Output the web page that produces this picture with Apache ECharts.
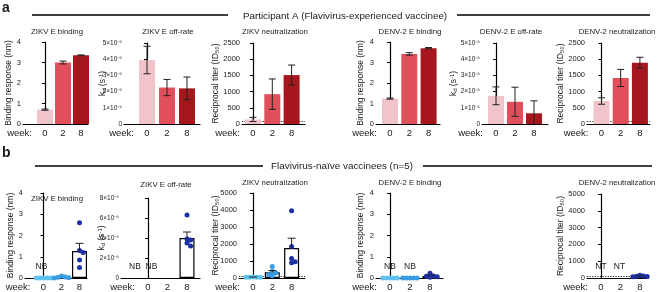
<!DOCTYPE html>
<html><head><meta charset="utf-8">
<script src="https://cdn.jsdelivr.net/npm/echarts@6/dist/echarts.min.js"></script>
<style>html,body{margin:0;padding:0;background:#fff}#c{width:658px;height:292px}</style>
</head><body><div id="c"></div><script>
// ---------- data ----------
const weeks = ['0', '2', '8'];
const headerA = 'Participant A (Flavivirus-experienced vaccinee)';
const headerB = 'Flavivirus-naïve vaccinees (n=5)';

// Panel a : Participant A (bar = mean, err = error)
const aZikvBinding = [0.70, 3.00, 3.35];
const aZikvBindingErr = [0.03, 0.07, 0.02];
const aZikvKd = [3.95e-5, 2.25e-5, 2.20e-5];
const aZikvKdErr = [0.85e-5, 0.50e-5, 0.70e-5];
const aZikvNeut = [140, 920, 1510];
const aZikvNeutErr = [65, 470, 310];
const aDenvBinding = [1.24, 3.42, 3.70];
const aDenvBindingErr = [0.03, 0.06, 0.03];
const aDenvKd = [1.74e-5, 1.37e-5, 0.66e-5];
const aDenvKdErr = [0.55e-5, 0.90e-5, 0.77e-5];
const aDenvNeut = [710, 1420, 1890];
const aDenvNeutErr = [100, 265, 170];

// Panel b : Flavivirus-naive vaccinees, individual values per week
const bZikvBindingPts = [[0, 0, 0, 0, 0], [0.09, 0.05, 0.03, 0.01, 0], [2.6, 1.3, 1.2, 0.85, 0.5]];
const bZikvBindingMean = [null, null, 1.27];
const bZikvBindingErr = [null, null, 0.36];
const bZikvKdPts = [[], [], [6.3e-6, 3.9e-6, 3.8e-6, 3.5e-6, 3.2e-6]];
const bZikvKdMean = [null, null, 4.0e-6];
const bZikvKdErr = [null, null, 0.6e-6];
const bZikvNeutPts = [[60, 50, 50, 50, 50], [680, 390, 290, 190, 130], [3950, 1850, 1150, 950, 900]];
const bZikvNeutMean = [52, 336, 1760];
const bZikvNeutErr = [2, 100, 580];
const bDenvBindingPts = [[0, 0, 0, 0, 0], [0, 0, 0, 0, 0], [0.22, 0.10, 0.08, 0.06, 0.04]];
const bDenvBindingMean = [null, null, 0.10];
const bDenvBindingErr = [null, null, 0.03];
const bDenvNeutPts = [[], [], [160, 120, 100, 90, 80]];
const bDenvNeutMean = [null, null, 110];
const bDenvNeutErr = [null, null, 15];
const neutLimit = 100;

// ---------- style ----------
const FONT = '"Liberation Sans", Arial, Helvetica, sans-serif';
const TXT = '#1a1a1a';
const redColors = ['#f1c3cb', '#e0505a', '#a5161d'];
const blueColors = ['#5fc2ef', '#3a9be0', '#1e2fa6'];

const sup = {'-': '⁻', '0': '⁰', '1': '¹', '2': '²', '3': '³', '4': '⁴', '5': '⁵', '6': '⁶', '7': '⁷', '8': '⁸', '9': '⁹'};
const supStr = s => String(s).split('').map(c => sup[c] || c).join('');
const sciFmt = exp => v => { const n = Math.round(v / Math.pow(10, exp)); return n === 0 ? '0' : n + '×10' + supStr(exp); };
const kdName = '{k|k}{d|d}{k| (s}{e|-1}{k|)}';
const kdRich = {k: {fontSize: 8.5, fontFamily: FONT, color: TXT}, d: {fontSize: 6, fontFamily: FONT, color: TXT, padding: [3, 0, 0, 0]}, e: {fontSize: 6, fontFamily: FONT, color: TXT, padding: [0, 0, 4, 0]}};

const TOP_A = 42, BOT_A = 124, BOT_B = 278;
const panels = [
  // row a
  {x0: 23, xend: 88, c0: 45, s: 18, top: TOP_A, bottom: BOT_A, yMax: 4, yInt: 1, yName: 'Binding response (nm)', nameGap: 10,
   title: 'ZIKV E binding', titleX: 57, titleY: 32, mean: aZikvBinding, err: aZikvBindingErr, both: true, fill: redColors, lblY: 133},
  {x0: 124, xend: 200, c0: 147, s: 20, top: TOP_A + 1, bottom: BOT_A, yMax: 5e-5, yInt: 1e-5, fmt: sciFmt(-5), kd: true, nameGap: 16,
   title: 'ZIKV E off-rate', titleX: 168, titleY: 32, mean: aZikvKd, err: aZikvKdErr, both: true, fill: redColors, lblY: 133},
  {x0: 242, xend: 305, c0: 253, s: 19.3, top: TOP_A + 1, bottom: BOT_A, yMax: 2500, yInt: 500, yName: 'Reciprocal titer (ID₅₀)', nameGap: 22, lod: true,
   title: 'ZIKV neutralization', titleX: 275, titleY: 32, mean: aZikvNeut, err: aZikvNeutErr, both: true, fill: redColors, lblY: 133},
  {x0: 376, xend: 440, c0: 390, s: 19.3, top: TOP_A, bottom: BOT_A, yMax: 4, yInt: 1, yName: 'Binding response (nm)', nameGap: 11,
   title: 'DENV-2 E binding', titleX: 410, titleY: 32, mean: aDenvBinding, err: aDenvBindingErr, both: true, fill: redColors, lblY: 133},
  {x0: 482, xend: 548, c0: 496, s: 19, top: TOP_A + 1, bottom: BOT_A, yMax: 5e-5, yInt: 1e-5, fmt: sciFmt(-5), kd: true, nameGap: 23,
   title: 'DENV-2 E off-rate', titleX: 511, titleY: 32, mean: aDenvKd, err: aDenvKdErr, both: true, fill: redColors, lblY: 133},
  {x0: 587, xend: 650, c0: 601.5, s: 19.2, top: TOP_A + 1, bottom: BOT_A, yMax: 2500, yInt: 500, yName: 'Reciprocal titer (ID₅₀)', nameGap: 22, lod: true,
   title: 'DENV-2 neutralization', titleX: 617, titleY: 32, mean: aDenvNeut, err: aDenvNeutErr, both: true, fill: redColors, lblY: 133},
  // row b
  {x0: 25, xend: 87, c0: 43.5, s: 18, top: 193, bottom: BOT_B, yMax: 4, yInt: 1, yName: 'Binding response (nm)', nameGap: 10,
   title: 'ZIKV E binding', titleX: 57, titleY: 199, mean: bZikvBindingMean, err: bZikvBindingErr, pts: bZikvBindingPts, lblY: 287,
   notes: [{t: 'NB', i: 0, dx: -2}]},
  {x0: 121, xend: 200, c0: 148, s: 19.5, top: 198, bottom: BOT_B, yMax: 8e-6, yInt: 2e-6, fmt: sciFmt(-6), kd: true, nameGap: 14,
   title: 'ZIKV E off-rate', titleX: 166, titleY: 185, mean: bZikvKdMean, err: bZikvKdErr, pts: bZikvKdPts, lblY: 287,
   notes: [{t: 'NB', i: 0, dx: -13}, {t: 'NB', i: 1, dx: -16}]},
  {x0: 239, xend: 305, c0: 253, s: 19.3, top: 193, bottom: BOT_B, yMax: 5000, yInt: 1000, yName: 'Reciprocal titer (ID₅₀)', nameGap: 19, lod: true,
   title: 'ZIKV neutralization', titleX: 275, titleY: 183, mean: bZikvNeutMean, err: bZikvNeutErr, pts: bZikvNeutPts, lblY: 287},
  {x0: 376, xend: 443, c0: 390, s: 20, top: 193, bottom: BOT_B, yMax: 4, yInt: 1, yName: 'Binding response (nm)', nameGap: 11,
   title: 'DENV-2 E binding', titleX: 410, titleY: 183, mean: bDenvBindingMean, err: bDenvBindingErr, pts: bDenvBindingPts, lblY: 287,
   notes: [{t: 'NB', i: 0, dx: 0}, {t: 'NB', i: 1, dx: 0}]},
  {x0: 587, xend: 648, c0: 601, s: 19.5, top: 194, bottom: BOT_B, yMax: 5000, yInt: 1000, yName: 'Reciprocal titer (ID₅₀)', nameGap: 22, lod: true,
   title: 'DENV-2 neutralization', titleX: 617, titleY: 183, mean: bDenvNeutMean, err: bDenvNeutErr, pts: bDenvNeutPts, lblY: 287,
   notes: [{t: 'NT', i: 0, dx: 0}, {t: 'NT', i: 1, dx: -1}]}
];

// ---------- build ----------
const grids = [], xAxes = [], yAxes = [], series = [], graphics = [];
const txt = (text, x, y, size, align, extra) => graphics.push({type: 'text', x, y, silent: true,
  style: Object.assign({text, fontSize: size, fontFamily: FONT, fill: TXT, textAlign: align || 'center', textVerticalAlign: 'middle'}, extra || {})});

function beeswarm(vals, kx, ky, d) {
  // x offsets (data units) so that symbols of diameter d do not overlap
  const placed = [], out = [];
  vals.forEach(v => {
    const py = v * ky;
    const cands = [0, 1, -1, 2, -2, 3, -3];
    let off = 0;
    for (const c of cands) {
      const px = c * d;
      if (placed.every(q => Math.hypot(q[0] - px, q[1] - py) >= d)) { off = px; break; }
    }
    placed.push([off, py]);
    out.push(off / kx);
  });
  return out;
}

panels.forEach((p, k) => {
  const W = p.xend - p.x0, H = p.bottom - p.top;
  grids.push({left: p.x0, top: p.top, width: W, height: H, containLabel: false, outerBoundsMode: 'none'});
  xAxes.push({gridIndex: k, type: 'value', min: (p.x0 - p.c0) / p.s, max: (p.xend - p.c0) / p.s,
    axisLine: {show: true, onZero: false, lineStyle: {color: '#000', width: 1.2}},
    axisTick: {show: false}, splitLine: {show: false},
    axisLabel: {customValues: [0, 1, 2], formatter: v => weeks[Math.round(v)] || '', fontSize: 9.5, color: TXT, fontFamily: FONT,
      margin: p.lblY - p.bottom - 5}});
  yAxes.push({gridIndex: k, type: 'value', min: 0, max: p.yMax, interval: p.yInt,
    axisLine: {show: true, lineStyle: {color: '#000', width: 1.2}},
    axisTick: {show: true, length: 3, lineStyle: {color: '#000', width: 1}},
    splitLine: {show: false},
    axisLabel: {fontSize: p.fmt ? 6.5 : 7.5, color: TXT, fontFamily: FONT, margin: 2, formatter: p.fmt || (v => String(v))},
    name: p.kd ? kdName : p.yName, nameLocation: 'middle', nameGap: p.nameGap, nameRotate: 90, nameMoveOverlap: false,
    nameTextStyle: p.kd ? {rich: kdRich} : {fontSize: 8.5, fontFamily: FONT, color: TXT}});

  const filled = !!p.fill;
  const barData = [];
  p.mean.forEach((v, i) => { if (v != null) barData.push({value: [i, v], itemStyle: filled ? {color: p.fill[i]} : {color: '#fff', borderColor: '#000', borderWidth: 1.2}}); });
  const bar = {type: 'bar', xAxisIndex: k, yAxisIndex: k, barWidth: filled ? 16 : 15, data: barData, silent: true, z: 2};
  if (p.lod) bar.markLine = {silent: true, symbol: ['none', 'none'], label: {show: false}, z: 1,
    lineStyle: {type: [1.2, 1.4], color: '#222', width: 1}, data: [{yAxis: neutLimit}]};
  series.push(bar);

  if (p.pts) {
    const kx = p.s, ky = H / p.yMax;
    p.pts.forEach((arr, i) => {
      if (!arr.length) return;
      const offs = beeswarm(arr, kx, ky, 3.6);
      series.push({type: 'scatter', xAxisIndex: k, yAxisIndex: k, symbolSize: 5, silent: true, z: 6,
        itemStyle: {color: blueColors[i], opacity: 1},
        data: arr.map((v, j) => [i + offs[j], v])});
    });
  }

  const errData = [];
  p.mean.forEach((v, i) => { if (v != null && p.err[i] != null) errData.push([i, p.both ? Math.max(0, v - p.err[i]) : v, v + p.err[i], p.both ? 1 : 0]); });
  series.push({type: 'custom', xAxisIndex: k, yAxisIndex: k, clip: true, silent: true, z: 8,
    encode: {x: 0, y: [1, 2]}, data: errData,
    renderItem: (params, api) => {
      const lo = api.coord([api.value(0), api.value(1)]), hi = api.coord([api.value(0), api.value(2)]);
      const hw = p.both ? 3.5 : 4;
      const st = {stroke: '#222', lineWidth: 1};
      const ch = [{type: 'line', shape: {x1: hi[0], y1: lo[1], x2: hi[0], y2: hi[1]}, style: st},
        {type: 'line', shape: {x1: hi[0] - hw, y1: hi[1], x2: hi[0] + hw, y2: hi[1]}, style: st}];
      if (api.value(3) && api.value(1) > 0) ch.push({type: 'line', shape: {x1: lo[0] - hw, y1: lo[1], x2: lo[0] + hw, y2: lo[1]}, style: st});
      return {type: 'group', children: ch};
    }});

  // text: title, "week:", notes
  txt(p.title, p.titleX, p.titleY, 7.8);
  txt('week:', p.c0 - 13, p.lblY, 9.5, 'right');
  (p.notes || []).forEach(n => txt(n.t, p.c0 + p.s * n.i + n.dx, p.bottom - 11, 8.5));
});

// panel letters & headers
txt('a', 2, 8, 14, 'left', {fontWeight: 'bold'});
txt('b', 2, 153, 14, 'left', {fontWeight: 'bold'});
const hline = (x1, x2, y) => graphics.push({type: 'line', silent: true, shape: {x1, y1: y, x2, y2: y}, style: {stroke: '#000', lineWidth: 1.5}});
hline(32, 228, 15); hline(457, 650, 15);
txt(headerA, 345, 16, 9.8);
hline(35, 263, 166); hline(423, 652, 166);
txt(headerB, 342, 166, 9.9);

const chart = echarts.init(document.getElementById('c'), null, {renderer: 'canvas'});
chart.setOption({animation: false, backgroundColor: '#fff', grid: grids, xAxis: xAxes, yAxis: yAxes, series, graphic: graphics});
</script></body></html>
